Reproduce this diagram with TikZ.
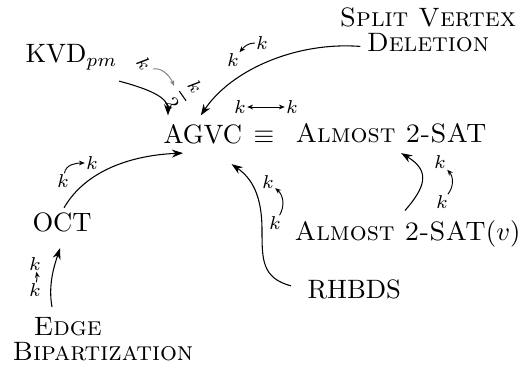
\documentclass[tikz,border=0pt]{standalone}
\usetikzlibrary{arrows.meta,calc}
\begin{document}
\begin{tikzpicture}[x=0.376pt,y=-0.376pt,
  lbl/.style={inner sep=0pt, anchor=base west},
  prm/.style={font=\scriptsize, inner sep=0.3pt},
  conn/.style={-{Stealth[length=4.2pt,width=3pt]}, line width=0.4pt},
  pconn/.style={-{Stealth[length=2.2pt,width=1.8pt]}, line width=0.35pt}]
\useasboundingbox (0,0) rectangle (524,368);
% problems
\node[lbl] (kvd) at (25,63) {KVD$_{pm}$};
\node[inner sep=0pt, align=center, anchor=north] (svd) at (428,7) {\textsc{Split Vertex}\\[-2.5pt]\textsc{Deletion}};
\node[lbl] (agvc) at (163,144) {AGVC};
\node[lbl] (eq) at (253,144) {$\equiv$};
\node[lbl] (a2sat) at (295,143) {\textsc{Almost 2-SAT}};
\node[lbl] (oct) at (32,232) {OCT};
\node[inner sep=0pt, align=left, anchor=north west] (eb) at (12,317) {\hspace*{7.9pt}\textsc{Edge}\\[-2.5pt]\textsc{Bipartization}};
\node[inner sep=0pt, anchor=base east] (a2v) at (521,241) {\textsc{Almost 2-SAT}$(v)$};
\node[lbl] (rh) at (307,299) {RHBDS};
% reductions
\draw[conn] ($(kvd.south east)+(1,10)$) .. controls +(30,8) and +(0,-18) .. ($(agvc.north west)+(5,-9)$);
\draw[conn] ($(svd.south west)+(21,-6)$) .. controls +(-65,-5) and +(30,-45) .. ($(agvc.north)+(-2,-9)$);
\draw[conn] ($(oct.north)+(2,-5)$) .. controls +(22,-38) and +(-50,2) .. ($(agvc.south west)+(20,8)$);
\draw[conn] ($(eb.north west)+(40,-10)$) .. controls +(-4,-22) and +(-6,18) .. ($(oct.south)+(-2,15)$);
\draw[conn] ($(rh.west)+(-16,-4)$) .. controls +(-29,-8) and +(0,30) .. (262,230) .. controls +(0,-35) and +(20,14) .. ($(agvc.south east)+(-11,19)$);
\draw[conn] ($(a2v.north east)+(-116,-10)$) .. controls +(20,-23) and +(30,18) .. ($(a2sat.south)+(10,9)$);
% parameter labels
\node[prm, rotate=-55] (p1a) at (144,64) {$k$};
\node[prm, rotate=-55, inner sep=0pt] (p1b) at (184,95) {$\displaystyle\frac{k}{2}$};
\draw[pconn, gray] ($(p1a)+(9,5)$) .. controls +(10,-2) and +(-3,-8) .. ($(p1b)+(-10,-9)$);
\node[prm] (p2a) at (262,43) {$k$};
\node[prm] (p2b) at (233,60) {$k$};
\draw[pconn] (p2a) to[out=180,in=50] (p2b);
\node[prm] (p3a) at (240,107) {$k$};
\node[prm] (p3b) at (292,107) {$k$};
\draw[{Stealth[length=2.2pt,width=1.8pt]}-{Stealth[length=2.2pt,width=1.8pt]}, line width=0.35pt] (p3a) -- (p3b);
\node[prm] (p4a) at (63,181) {$k$};
\node[prm] (p4b) at (92,163) {$k$};
\draw[pconn] (p4a) to[out=80,in=180] (p4b);
\node[prm] (p5a) at (35,290) {$k$};
\node[prm] (p5b) at (35,264) {$k$};
\draw[pconn] (p5a) to[bend right=10] (p5b);
\node[prm] (p6a) at (275,223) {$k$};
\node[prm] (p6b) at (268,182) {$k$};
\draw[pconn] (p6a) to[bend right=40] (p6b);
\node[prm] (p7a) at (442,202) {$k$};
\node[prm] (p7b) at (440,162) {$k$};
\draw[pconn] (p7a) to[bend right=40] (p7b);
\end{tikzpicture}
\end{document}
